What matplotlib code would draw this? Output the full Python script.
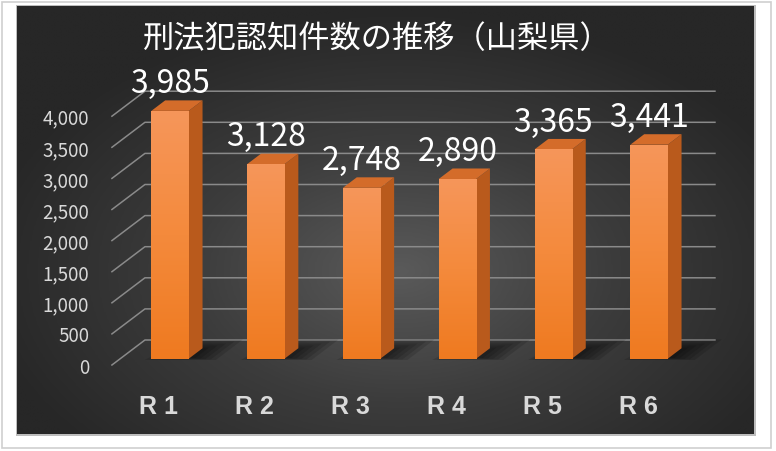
import matplotlib.pyplot as plt
import numpy as np
from matplotlib.patches import Polygon, Rectangle
from matplotlib.colors import LinearSegmentedColormap

plt.rcParams['font.family'] = ['Noto Sans CJK JP', 'DejaVu Sans']

title = '刑法犯認知件数の推移（山梨県）'
years = ['R 1', 'R 2', 'R 3', 'R 4', 'R 5', 'R 6']
counts = [3985, 3128, 2748, 2890, 3365, 3441]
yticks = np.arange(0, 4001, 500)

W, H = 776, 452
fig = plt.figure(figsize=(W / 100, H / 100), dpi=100, facecolor='white')

# outer frame + dark panel with radial gradient
fig.add_artist(Rectangle((2 / W, 3 / H), 769 / W, 446 / H, transform=fig.transFigure,
                         fill=False, ec='#cfcfcf', lw=1.2, zorder=-2))
px0, py0, px1, py1 = 17, 7, 754, 435
fig.add_artist(Rectangle(((px0 - 1) / W, 1 - (py1 + 2) / H), (px1 - px0 + 3) / W, (py1 - py0 + 3) / H,
                         transform=fig.transFigure, fc='#bdbdbd', ec='none', zorder=-2))
bg = fig.add_axes([px0 / W, 1 - py1 / H, (px1 - px0) / W, (py1 - py0) / H])
yy, xx = np.mgrid[0:1:300j, 0:1:500j]
r = np.sqrt(((xx - 0.52) / 0.8) ** 2 + ((yy - 0.62) / 0.85) ** 2)
bg_cmap = LinearSegmentedColormap.from_list('bg', ['#5a5a5a', '#3c3c3c', '#272727'])
bg.imshow(r, cmap=bg_cmap, vmin=0, vmax=0.72, aspect='auto', interpolation='bilinear')
bg.axis('off')

# main axes: x in category units, y in value units, 3D depth done by offsets
SX, X0 = 95.8, 161.75      # px per category, px of category 0
SY, Y0 = 0.0622, 366       # px per count, px (from top) of 0 at front
ax = fig.add_axes([0, 0, 1, 1])
ax.set_xlim(-X0 / SX, (W - X0) / SX)
ax.set_ylim((Y0 - H) / SY, Y0 / SY)
ax.axis('off')
ax.patch.set_alpha(0)
DX, DV = 33 / SX, 25 / SY


def proj(c, v, d):
    return c + d * DX, v + d * DV


# gridlines: slanted side + back wall
cL, cR = -0.52, 5.43
for v in yticks:
    xa, ya = proj(cL, v, 0)
    xb, yb = proj(cL, v, 1)
    xc, _ = proj(cR, v, 1)
    ax.plot([xa, xb, xc], [ya, yb, yb], color='#8a8a8a', lw=1.1, zorder=1)
    ax.annotate(f'{v:,}', (xa, ya), xytext=(-16.5, -1.5), textcoords='offset points',
                ha='right', va='center', color='#d9d9d9', fontsize=13.5)

# bars
d0, d1 = 0.25, 0.67
hw = 0.195
x = np.arange(len(years))

# floor shadows
for c in x:
    for k in range(5):
        s = k * 0.04
        pts = [proj(c - hw - 0.05 + s, 0, d0 - 0.05 + s * 0.5),
               proj(c + hw + 0.30 - s * 1.5, 0, d0 - 0.05 + s * 0.5),
               proj(c + hw + 0.30 - s * 1.5, 0, d1 + 0.35 - s * 2),
               proj(c - hw + 0.05 + s, 0, d1 + 0.35 - s * 2)]
        ax.add_patch(Polygon(pts, closed=True, fc='black', ec='none', alpha=0.13, zorder=2))

front = ax.bar(x + d0 * DX, counts, width=2 * hw, bottom=d0 * DV, color='#f4842f', zorder=3)
grad = np.linspace(0, 1, 100).reshape(-1, 1)
bar_cmap = LinearSegmentedColormap.from_list('bar', ['#ef7a20', '#f48a3c', '#f6965a'])
for rect in front:
    im = ax.imshow(grad, extent=(rect.get_x(), rect.get_x() + rect.get_width(),
                                 rect.get_y(), rect.get_y() + rect.get_height()),
                   origin='lower', cmap=bar_cmap, aspect='auto', zorder=3.5)
    im.set_clip_path(rect)

for c, v in zip(x, counts):
    side = [proj(c + hw, 0, d0), proj(c + hw, 0, d1), proj(c + hw, v, d1), proj(c + hw, v, d0)]
    top = [proj(c - hw, v, d0), proj(c + hw, v, d0), proj(c + hw, v, d1), proj(c - hw, v, d1)]
    ax.add_patch(Polygon(side, closed=True, fc='#b95a1c', ec='none', zorder=3))
    ax.add_patch(Polygon(top, closed=True, fc='#d46c2a', ec='none', zorder=3))
    fx, fy = proj(c, v, d0)
    ax.annotate(f'{v:,}', (fx, fy), xytext=(0, 20), textcoords='offset points',
                ha='center', va='center', color='white', fontsize=23)

# keep limits fixed after imshow
ax.set_xlim(-X0 / SX, (W - X0) / SX)
ax.set_ylim((Y0 - H) / SY, Y0 / SY)

# category labels
for c, lab in zip(x, years):
    ax.annotate(lab, proj(c, 0, 0), xytext=(-2, -29.5), textcoords='offset points',
                ha='center', va='center', color='#d9d9d9', fontsize=18,
                family=['Liberation Sans', 'DejaVu Sans'], weight='bold')

fig.text(377 / W, 1 - 39 / H, title, ha='center', va='center', color='white', fontsize=22.5)

fig.savefig('out.png', dpi=100, facecolor='white')
